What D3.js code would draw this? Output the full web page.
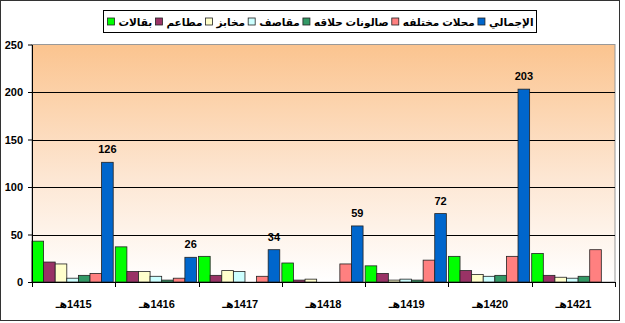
<!DOCTYPE html>
<html>
<head>
<meta charset="utf-8">
<script src="https://cdn.jsdelivr.net/npm/d3@7"></script>
<style>
  html, body { margin: 0; padding: 0; background: #fff; }
  svg { display: block; }
  text { font-family: "Liberation Sans", Arial, "DejaVu Sans", sans-serif; font-weight: bold; fill: #000; }
</style>
</head>
<body>
<svg id="chart" width="625" height="323"></svg>
<script>
// Hijri years on the category axis
const years = ["1415", "1416", "1417", "1418", "1419", "1420", "1421"];
const yearSuffix = "هـ";

// Series names (legend order, left to right)
const seriesNames = ["بقالات", "مطاعم", "مخابز", "مقاصف", "صالونات حلاقه", "محلات مختلفه", "الإجمالي"];
const seriesColors = ["#00ff00", "#993366", "#ffffcc", "#ccffff", "#339966", "#ff8080", "#0066cc"];

// Values per series, one per year (null = no bar)
const grocery     = [43, 37, 27, 20, 17, 27, 30];
const restaurants = [21, 11, 7, 2, 9, 12, 7];
const bakeries    = [19, 11, 12, 3, 2, 8, 5];
const canteens    = [4, 6, 11, 0, 3, 6, 4];
const barbers     = [7, 2, 0, 0, 2, 7, 6];
const misc        = [9, 4, 6, 19, 23, 27, 34];
const total       = [126, 26, 34, 59, 72, 203, null];
const seriesValues = [grocery, restaurants, bakeries, canteens, barbers, misc, total];

// Value axis ticks
const yTicks = [0, 50, 100, 150, 200, 250];

const svg = d3.select("#chart");

// Outer chart frame
svg.append("rect")
  .attr("x", 0.5).attr("y", 0.5).attr("width", 619).attr("height", 320)
  .attr("fill", "#fff").attr("stroke", "#333").attr("stroke-width", 1);

const plot = { left: 32, right: 615, top: 44.5, bottom: 282 };

const y = d3.scaleLinear().domain([0, 250]).range([plot.bottom, plot.top]);
const x0 = d3.scaleBand().domain(years).range([plot.left, plot.right]).padding(0);
const x1 = d3.scaleBand().domain(d3.range(seriesNames.length))
  .range([0, x0.bandwidth() * 0.975]).padding(0);

// Plot area background gradient
const defs = svg.append("defs");
const grad = defs.append("linearGradient").attr("id", "bg")
  .attr("x1", 0).attr("y1", 0).attr("x2", 0).attr("y2", 1);
grad.append("stop").attr("offset", "0%").attr("stop-color", "#fbc48f");
grad.append("stop").attr("offset", "55%").attr("stop-color", "#fde6d2");
grad.append("stop").attr("offset", "100%").attr("stop-color", "#ffffff");

svg.append("rect")
  .attr("x", plot.left).attr("y", plot.top)
  .attr("width", plot.right - plot.left).attr("height", plot.bottom - plot.top)
  .attr("fill", "url(#bg)").attr("stroke", "#999").attr("stroke-width", 1);

// Gridlines
svg.append("g").selectAll("line")
  .data(yTicks.filter(d => d > 0 && d < 250))
  .join("line")
  .attr("x1", plot.left).attr("x2", plot.right)
  .attr("y1", d => Math.round(y(d)) + 0.5).attr("y2", d => Math.round(y(d)) + 0.5)
  .attr("stroke", "#000").attr("stroke-width", 1);

// Bars
const barData = [];
years.forEach((yr, i) => {
  seriesValues.forEach((vals, s) => {
    if (vals[i] !== null && vals[i] > 0) barData.push({ year: yr, s, v: vals[i] });
  });
});

svg.append("g").selectAll("rect")
  .data(barData)
  .join("rect")
  .attr("x", d => x0(d.year) + x1(d.s))
  .attr("width", x1.bandwidth())
  .attr("y", d => y(d.v))
  .attr("height", d => y(0) - y(d.v))
  .attr("fill", d => seriesColors[d.s])
  .attr("stroke", "#222").attr("stroke-width", 0.8);

// Value labels on the total series
const totalIdx = seriesNames.length - 1;
svg.append("g").selectAll("text")
  .data(years.map((yr, i) => ({ year: yr, v: total[i] })).filter(d => d.v !== null))
  .join("text")
  .attr("x", d => x0(d.year) + x1(totalIdx) + x1.bandwidth() / 2)
  .attr("y", d => y(d.v) - 9)
  .attr("text-anchor", "middle")
  .attr("font-size", 11)
  .text(d => d.v);

// Value axis
const yAxis = svg.append("g")
  .attr("transform", `translate(${plot.left},0)`)
  .call(d3.axisLeft(y).tickValues(yTicks).tickSize(4).tickSizeOuter(0));
yAxis.select(".domain").attr("stroke", "#000");
yAxis.selectAll(".tick line").attr("stroke", "#000");
yAxis.selectAll("text").attr("font-size", 11).attr("font-family", null)
  .attr("font-weight", "bold").attr("dx", -2);

// Category axis: suffix drawn to the left of the year, LRM keeps the digits after it
const xAxis = svg.append("g")
  .attr("transform", `translate(0,${plot.bottom})`)
  .call(d3.axisBottom(x0).tickSize(0).tickFormat(d => yearSuffix + "\u200E" + d));
xAxis.select(".domain").attr("stroke", "#000");
xAxis.selectAll("text")
  .attr("font-size", 11).attr("font-family", null).attr("font-weight", "bold")
  .attr("y", 18);

// Category boundary tick marks
svg.append("g").selectAll("line")
  .data(years.map(yr => x0(yr)).concat([plot.right]))
  .join("line")
  .attr("x1", d => Math.round(d) + 0.5).attr("x2", d => Math.round(d) + 0.5)
  .attr("y1", plot.bottom).attr("y2", plot.bottom + 5)
  .attr("stroke", "#000");

// Legend
const legendBox = { x: 103.5, y: 10.5, w: 433, h: 22 };
svg.append("rect")
  .attr("x", legendBox.x).attr("y", legendBox.y)
  .attr("width", legendBox.w).attr("height", legendBox.h)
  .attr("fill", "#fff").attr("stroke", "#000").attr("stroke-width", 1);

const legend = svg.append("g");
const items = legend.selectAll("g").data(seriesNames).join("g");
items.append("rect")
  .attr("width", 7).attr("height", 7)
  .attr("y", legendBox.y + legendBox.h / 2 - 3.5)
  .attr("fill", (d, i) => seriesColors[i])
  .attr("stroke", "#222").attr("stroke-width", 0.8);
const labels = items.append("text")
  .attr("font-size", 10.5)
  .attr("y", legendBox.y + legendBox.h / 2 + 4)
  .text(d => d);

const swatchW = 7, swatchGap = 4;
const widths = labels.nodes().map(n => n.getComputedTextLength());
const contentW = d3.sum(widths) + seriesNames.length * (swatchW + swatchGap);
const padL = 4, padR = 3;
const spacing = (legendBox.w - padL - padR - contentW) / (seriesNames.length - 1);
let cx = legendBox.x + padL;
items.each(function(d, i) {
  const g = d3.select(this);
  g.select("rect").attr("x", cx);
  g.select("text").attr("x", cx + swatchW + swatchGap);
  cx += swatchW + swatchGap + widths[i] + spacing;
});
</script>
</body>
</html>
